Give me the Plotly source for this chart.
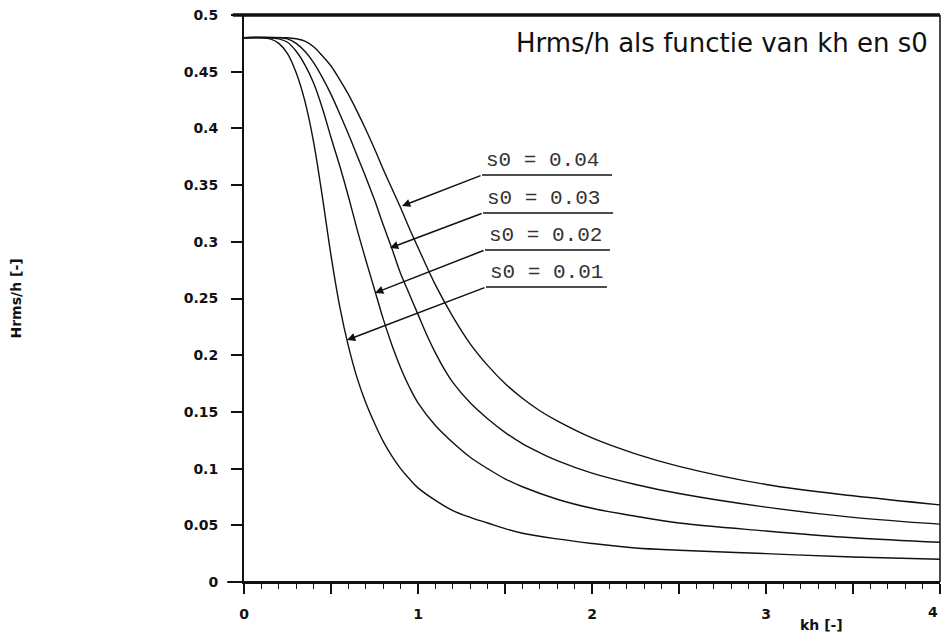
import plotly.graph_objects as go

# ---- data ----
kh_001 = [0, 0.1, 0.15, 0.2, 0.25, 0.3, 0.35, 0.4, 0.45, 0.5, 0.55, 0.6, 0.65, 0.7, 0.75, 0.8, 0.85, 0.9, 0.95, 1.0, 1.1, 1.2, 1.3, 1.4, 1.5, 1.6, 1.8, 2.0, 2.25, 2.5, 3.0, 3.5, 4.0]
h_001 = [0.48, 0.48, 0.479, 0.475, 0.466, 0.449, 0.424, 0.388, 0.340, 0.288, 0.243, 0.208, 0.180, 0.158, 0.140, 0.124, 0.111, 0.100, 0.091, 0.083, 0.072, 0.063, 0.057, 0.052, 0.047, 0.043, 0.038, 0.034, 0.030, 0.028, 0.025, 0.022, 0.020]

kh_002 = [0, 0.15, 0.2, 0.25, 0.3, 0.35, 0.4, 0.45, 0.5, 0.55, 0.6, 0.65, 0.7, 0.75, 0.8, 0.85, 0.9, 0.95, 1.0, 1.1, 1.2, 1.3, 1.4, 1.5, 1.6, 1.8, 2.0, 2.25, 2.5, 3.0, 3.5, 4.0]
h_002 = [0.48, 0.48, 0.479, 0.476, 0.468, 0.456, 0.44, 0.418, 0.392, 0.367, 0.34, 0.311, 0.284, 0.258, 0.232, 0.209, 0.189, 0.172, 0.158, 0.138, 0.123, 0.110, 0.100, 0.091, 0.084, 0.073, 0.065, 0.058, 0.052, 0.045, 0.039, 0.035]

kh_003 = [0, 0.2, 0.25, 0.3, 0.35, 0.4, 0.45, 0.5, 0.55, 0.6, 0.65, 0.7, 0.75, 0.8, 0.85, 0.9, 0.95, 1.0, 1.05, 1.1, 1.15, 1.2, 1.3, 1.4, 1.5, 1.6, 1.7, 1.8, 2.0, 2.25, 2.5, 3.0, 3.5, 4.0]
h_003 = [0.48, 0.48, 0.479, 0.475, 0.468, 0.458, 0.445, 0.43, 0.413, 0.395, 0.376, 0.357, 0.337, 0.315, 0.294, 0.272, 0.254, 0.236, 0.218, 0.202, 0.188, 0.176, 0.158, 0.144, 0.132, 0.122, 0.114, 0.107, 0.096, 0.086, 0.078, 0.066, 0.057, 0.051]

kh_004 = [0, 0.25, 0.3, 0.35, 0.4, 0.45, 0.5, 0.55, 0.6, 0.65, 0.7, 0.75, 0.8, 0.85, 0.9, 0.95, 1.0, 1.1, 1.2, 1.3, 1.4, 1.5, 1.6, 1.7, 1.8, 2.0, 2.25, 2.5, 3.0, 3.5, 4.0]
h_004 = [0.48, 0.48, 0.479, 0.477, 0.472, 0.464, 0.455, 0.443, 0.43, 0.415, 0.399, 0.382, 0.364, 0.347, 0.330, 0.312, 0.295, 0.262, 0.234, 0.210, 0.191, 0.175, 0.162, 0.151, 0.142, 0.127, 0.113, 0.102, 0.086, 0.076, 0.068]

series = [
    ("s0 = 0.01", kh_001, h_001),
    ("s0 = 0.02", kh_002, h_002),
    ("s0 = 0.03", kh_003, h_003),
    ("s0 = 0.04", kh_004, h_004),
]

y_tickvals = [0, 0.05, 0.1, 0.15, 0.2, 0.25, 0.3, 0.35, 0.4, 0.45, 0.5]
y_ticktext = ["0", "0.05", "0.1", "0.15", "0.2", "0.25", "0.3", "0.35", "0.4", "0.45", "0.5"]
x_tickvals = [0, 0.5, 1, 1.5, 2, 2.5, 3, 3.5, 4]
x_ticktext = ["0", "", "1", "", "2", "", "3", "", "4"]

title_text = "Hrms/h als functie van kh en s0"
x_title = "kh [-]"
y_title = "Hrms/h [-]"

# ---- layout constants (label placement) ----
# (arrow tip kh, tip value, line start kh, line end kh, line value)
label_geom = {
    "s0 = 0.04": (0.908, 0.3316, 1.368, 2.115, 0.3589),
    "s0 = 0.03": (0.839, 0.2945, 1.374, 2.121, 0.3254),
    "s0 = 0.02": (0.753, 0.2549, 1.385, 2.103, 0.2928),
    "s0 = 0.01": (0.592, 0.2134, 1.391, 2.086, 0.2601),
}

tick_font = dict(family="DejaVu Sans", size=14, color="#111111", weight="bold")

fig = go.Figure()
for name, xs, ys in series:
    fig.add_trace(go.Scatter(x=xs, y=ys, mode="lines", name=name,
                             line=dict(color="#111111", width=1.4, shape="spline", smoothing=1.0),
                             showlegend=False, hoverinfo="skip"))

shapes = []
annotations = []
for name, (tx, ty, x0, x1, yl) in label_geom.items():
    shapes.append(dict(type="line", xref="x", yref="y", x0=x0, x1=x1, y0=yl, y1=yl,
                       line=dict(color="#111111", width=1.6)))
    annotations.append(dict(x=tx, y=ty, ax=x0, ay=yl, xref="x", yref="y", axref="x", ayref="y",
                            text="", showarrow=True, arrowhead=2, arrowsize=1.1, arrowwidth=1.5,
                            arrowcolor="#111111"))
    annotations.append(dict(x=x0 + 0.01, y=yl, xref="x", yref="y", text=name, showarrow=False,
                            xanchor="left", yanchor="bottom", yshift=1,
                            font=dict(family="Liberation Mono", size=21, color="#333333")))

# frame: thick top line, right line, extended x axis line
shapes.append(dict(type="line", xref="paper", yref="paper", x0=-0.016, x1=1, y0=1, y1=1,
                   line=dict(color="#111111", width=3.5)))
shapes.append(dict(type="line", xref="paper", yref="paper", x0=1, x1=1, y0=0, y1=1,
                   line=dict(color="#111111", width=1.5)))
shapes.append(dict(type="line", xref="paper", yref="paper", x0=-0.024, x1=1, y0=0, y1=0,
                   line=dict(color="#111111", width=2)))

annotations.append(dict(x=0.985, y=0.95, xref="paper", yref="paper", text=title_text,
                        showarrow=False, xanchor="right", yanchor="middle",
                        font=dict(family="DejaVu Sans", size=26, color="#111111")))
# last x tick label (at the right edge of the figure)
annotations.append(dict(x=4, y=0, xref="x", yref="paper", text="4", showarrow=False,
                        xanchor="right", yanchor="top", yshift=-20, font=tick_font))
annotations.append(dict(x=(821 - 244) / 696, y=-0.075, xref="paper", yref="paper", text="<b>" + x_title + "</b>",
                        showarrow=False, xanchor="center", yanchor="middle",
                        font=dict(family="DejaVu Sans", size=14, color="#111111")))
annotations.append(dict(x=(15 - 244) / 696, y=0.5, xref="paper", yref="paper", text="<b>" + y_title + "</b>",
                        showarrow=False, xanchor="center", yanchor="middle", textangle=-90,
                        font=dict(family="DejaVu Sans", size=14, color="#111111")))

fig.update_layout(
    width=942, height=632,
    margin=dict(l=244, r=2, t=15, b=50),
    paper_bgcolor="white", plot_bgcolor="white",
    shapes=shapes, annotations=annotations,
    xaxis=dict(range=[0, 4], showgrid=False, zeroline=False, showline=True, linecolor="#111111", linewidth=2,
               tickmode="array", tickvals=x_tickvals, ticktext=x_ticktext,
               ticks="outside", ticklen=10, tickwidth=1.5, tickcolor="#111111",
               ticklabelstandoff=8, tickfont=tick_font,
               minor=dict(dtick=0.1, ticks="outside", ticklen=5, tickwidth=1.3, tickcolor="#111111", showgrid=False)),
    yaxis=dict(range=[0, 0.5], showgrid=False, zeroline=False, showline=True, linecolor="#111111", linewidth=2,
               tickmode="array", tickvals=y_tickvals, ticktext=y_ticktext,
               ticks="outside", ticklen=11, tickwidth=1.5, tickcolor="#111111",
               ticklabelstandoff=10, tickfont=tick_font),
)

fig.write_html("out.html")
